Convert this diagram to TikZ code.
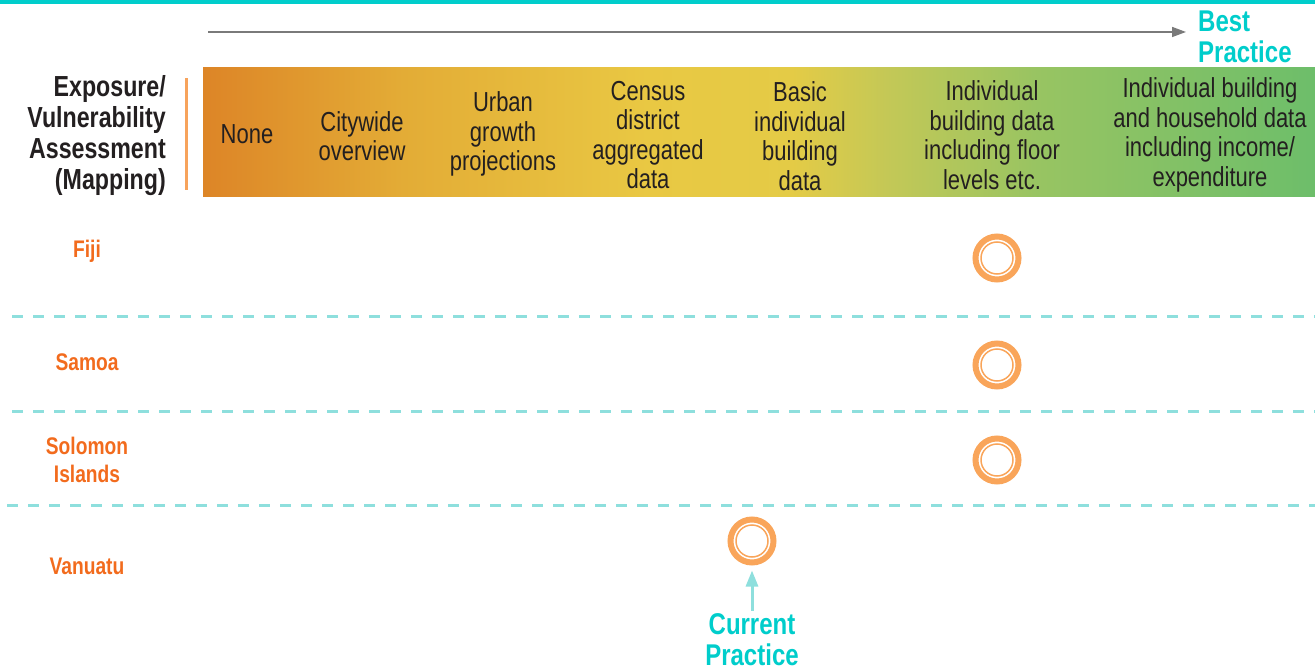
\documentclass[tikz,border=0pt]{standalone}
\usepackage{fontspec}
\setmainfont{Liberation Sans}[FakeStretch=0.8]
\usetikzlibrary{arrows.meta}

\definecolor{topcyan}{HTML}{00CDCB}
\definecolor{dashcyan}{HTML}{8EDFDD}
\definecolor{arrowgray}{HTML}{7A7A7A}
\definecolor{ink}{HTML}{231F20}
\definecolor{countryorange}{HTML}{F26B1D}
\definecolor{ringorange}{HTML}{F9A55A}
\definecolor{barorange}{HTML}{F7A35C}
\definecolor{band0}{HTML}{DD8527}
\definecolor{band1}{HTML}{E3AC36}
\definecolor{band2}{HTML}{E9C843}
\definecolor{band3}{HTML}{E4CB46}
\definecolor{band4}{HTML}{C2C857}
\definecolor{band5}{HTML}{98C462}
\definecolor{band6}{HTML}{6DBE6A}

% stops between 25bp and 75bp, the part that fills the path
\pgfdeclarehorizontalshading{bandscale}{100bp}{color(0bp)=(band0); color(25bp)=(band0); color(34bp)=(band1); color(45bp)=(band2); color(51.5bp)=(band3); color(56bp)=(band4); color(62.5bp)=(band5); color(75bp)=(band6); color(100bp)=(band6)}

\begin{document}
\begin{tikzpicture}[x=1pt,y=-1pt,
    collabel/.style={align=center,text=ink,inner sep=0pt,font=\fontsize{27.5}{29.5}\selectfont},
    header/.style={align=right,text=ink,inner sep=0pt,font=\bfseries\fontsize{29}{31}\selectfont},
    country/.style={align=center,text=countryorange,inner sep=0pt,font=\bfseries\fontsize{24}{28}\selectfont},
    practice/.style={text=topcyan,inner sep=0pt,font=\bfseries\fontsize{30}{31}\selectfont},
    rowline/.style={draw=dashcyan,line width=3pt,dash pattern=on 11pt off 10pt},
    score/.style={circle,draw=ringorange,line width=6pt,minimum size=43pt,inner sep=0pt,
        path picture={\draw[ringorange,line width=1.5pt] (path picture bounding box.center) circle[radius=16pt];}}]
\useasboundingbox (0,0) rectangle (1315,671);

% top rule and scale arrow
\fill[topcyan] (0,0) rectangle (1315,4);
\coordinate (scale-start) at (208,32);
\coordinate (scale-end) at (1186,32);
\draw[arrowgray,line width=1.5pt,-{Triangle[length=14pt,width=10pt]}] (scale-start) -- (scale-end);
\node[practice,align=left,anchor=west] (best) at (1198,37) {Best\\Practice};

% header band
\shade[shading=bandscale] (203,68) rectangle (1315,197);
\fill[barorange] (185,78) rectangle (187.5,190);
\node[header,anchor=east] (assessment) at (166,136) {Exposure/\\Vulnerability\\Assessment\\(Mapping)};
\node[collabel] (none) at (247,134) {None};
\node[collabel] (citywide) at (362,136) {Citywide\\overview};
\node[collabel] (urban) at (503,134) {Urban\\growth\\projections};
\node[collabel] (census) at (648,135) {Census\\district\\aggregated\\data};
\node[collabel] (basic) at (800,136) {Basic\\individual\\building\\data};
\node[collabel] (floor) at (992,135) {Individual\\building data\\including floor\\levels etc.};
\node[collabel] (household) at (1210,135) {Individual building\\and household data\\including income/\\expenditure};

% rows
\foreach \y/\x in {316/12,411/12,505/7}
    \draw[rowline] (\x,\y) -- (1315,\y);
\node[country] (fiji) at (87,251) {Fiji};
\node[country] (samoa) at (87,362) {Samoa};
\node[country] (solomon) at (87,460) {Solomon\\Islands};
\node[country] (vanuatu) at (87,566) {Vanuatu};

% current practice per country
\node[score] (fiji-score) at (997,258) {};
\node[score] (samoa-score) at (997,365) {};
\node[score] (solomon-score) at (997,460) {};
\node[score] (vanuatu-score) at (752,541) {};

\node[practice,align=center] (current) at (752,640) {Current\\Practice};
\draw[dashcyan,line width=3pt,-{Triangle[length=16pt,width=12pt]},shorten <=3pt,shorten >=5pt] (current.north) -- (vanuatu-score.south);
\end{tikzpicture}
\end{document}
